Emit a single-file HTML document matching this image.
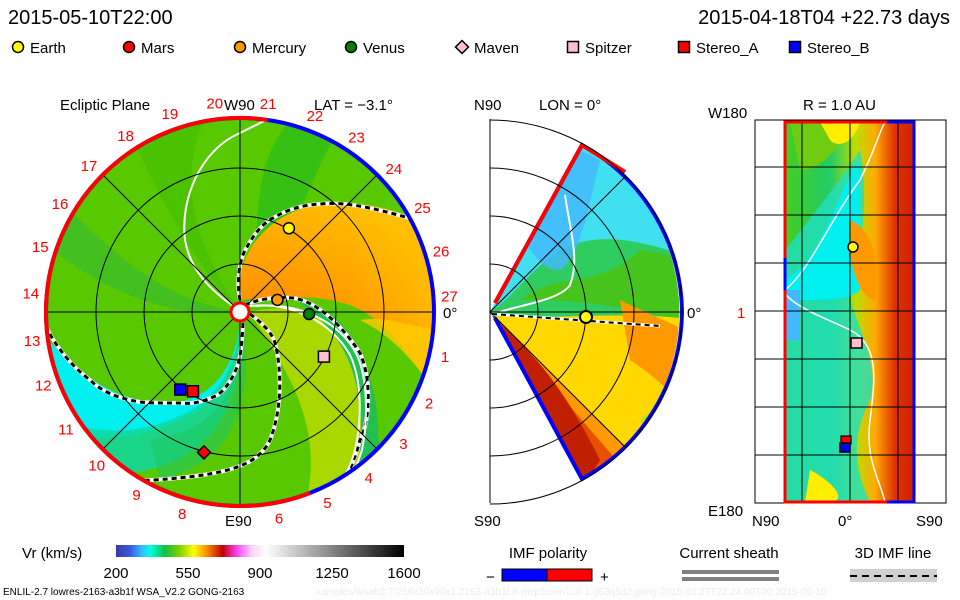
<!DOCTYPE html>
<html><head><meta charset="utf-8">
<style>
html,body{margin:0;padding:0;background:#fff;}
svg{display:block;font-family:"Liberation Sans",sans-serif;}
</style></head>
<body>
<svg id="root" width="960" height="600" viewBox="0 0 960 600">
<defs>
<clipPath id="circ"><circle cx="240" cy="312" r="194"/></clipPath>
<clipPath id="wedge"><path d="M490,312 L582,145 A192,192 0 0 1 582,479 Z"/></clipPath>
<clipPath id="rect"><rect x="785" y="122" width="129" height="380"/></clipPath>
<linearGradient id="cbar" x1="0" x2="1" y1="0" y2="0">
<stop offset="0" stop-color="#3a3aa0"/><stop offset="0.05" stop-color="#3a5ae0"/>
<stop offset="0.09" stop-color="#30c0ff"/><stop offset="0.12" stop-color="#00ffe0"/>
<stop offset="0.17" stop-color="#10c040"/><stop offset="0.22" stop-color="#80d000"/>
<stop offset="0.27" stop-color="#ffff00"/><stop offset="0.31" stop-color="#ff9900"/>
<stop offset="0.37" stop-color="#c00000"/><stop offset="0.42" stop-color="#ff40ff"/>
<stop offset="0.47" stop-color="#ffd0ff"/><stop offset="0.52" stop-color="#ffffff"/>
<stop offset="1" stop-color="#000000"/></linearGradient>
<radialGradient id="orangeg" cx="0.15" cy="0.9" r="1"><stop offset="0" stop-color="#ff6a00"/><stop offset="0.5" stop-color="#ff9a00"/><stop offset="1" stop-color="#ffc000"/></radialGradient>
<linearGradient id="rgrad" x1="0" x2="1"><stop offset="0" stop-color="#44cc22"/><stop offset="0.35" stop-color="#22cc66"/><stop offset="0.55" stop-color="#bbdd00"/><stop offset="0.7" stop-color="#ffaa00"/><stop offset="0.85" stop-color="#dd3300"/><stop offset="1" stop-color="#cc2200"/></linearGradient>
</defs>

<text x="8" y="24" font-size="20" fill="#000">2015-05-10T22:00</text>
<text x="950" y="24" font-size="20" fill="#000" text-anchor="end">2015-04-18T04 +22.73 days</text>

<g id="legend" font-size="15"></g>

<!-- Left polar panel -->
<g>
<text x="60" y="110" font-size="15">Ecliptic Plane</text>
<text x="224" y="110" font-size="15">W90</text>
<text x="314" y="110" font-size="15">LAT = −3.1°</text>
<text x="225" y="526" font-size="15">E90</text>
<text x="443" y="318" font-size="15">0°</text>
<g clip-path="url(#circ)">
<rect x="40" y="110" width="400" height="400" fill="#58c800"/>
<path d="M240,312 C200,250 170,180 210,110 L120,110 C150,180 190,260 240,312Z" fill="#48c000" opacity="0.8"/>
<path d="M240,312 C270,250 240,180 290,120 L350,110 C300,190 290,260 240,312Z" fill="#22bb22" opacity="0.6"/>
<path d="M240,312 C160,300 110,250 60,200 L40,240 C100,290 170,320 240,312Z" fill="#33bb33" opacity="0.6"/>
<path d="M238,300 C236,260 260,215 320,204 C370,200 405,212 440,230 L440,400 C420,370 390,320 350,305 C310,292 270,298 238,300Z" fill="url(#orangeg)"/>
<path d="M400,215 C420,240 440,280 440,330 L440,300 Z" fill="#ffbb00"/>
<path d="M360,320 C400,340 420,370 440,400 L440,330 C420,330 390,315 360,320Z" fill="#ffcc00" opacity="0.8"/>
<path d="M250,312 C300,300 340,320 360,360 C372,400 368,450 355,500 L300,520 C320,470 310,420 290,380 C275,350 260,330 250,312Z" fill="#a8d800"/>
<path d="M295,300 C335,305 365,340 375,400 C382,440 378,480 370,500 L350,505 C362,460 365,420 355,380 C345,340 320,315 295,300Z" fill="#22c050"/>
<path d="M240,320 C236,370 210,400 170,403 C120,403 80,380 40,330 L40,430 C90,445 150,440 200,410 C230,385 240,350 240,320Z" fill="#00f0f0"/>
<path d="M240,320 C242,370 235,410 205,440 C175,470 130,478 90,470 L60,420 C110,440 160,430 200,405 C230,380 238,350 240,320Z" fill="#10d8a0" opacity="0.85"/>
<path d="M150,440 C200,430 230,420 245,330 C250,400 240,460 160,480Z" fill="#20c860" opacity="0.6"/>
</g>
<g fill="none" clip-path="url(#circ)">
<path d="M236,308 C210,290 190,270 185,240 C180,200 200,150 240,133 C250,128 260,123 270,118" stroke="#fff" stroke-width="2"/>
<path d="M240,300 C237,285 238,260 247,247 C255,232 265,222 273,218 C290,208 305,205 320,204 C350,201 380,210 435,225" stroke="#fff" stroke-width="4"/>
<path d="M240,300 C237,285 238,260 247,247 C255,232 265,222 273,218 C290,208 305,205 320,204 C350,201 380,210 435,225" stroke="#000" stroke-width="3" stroke-dasharray="5,4"/>
<path d="M245,305 C260,298 280,297 293,298 C320,302 345,330 360,353 C372,380 370,420 360,440 C356,455 352,465 345,480" stroke="#fff" stroke-width="4"/>
<path d="M245,305 C260,298 280,297 293,298 C320,302 345,330 360,353 C372,380 370,420 360,440 C356,455 352,465 345,480" stroke="#000" stroke-width="3" stroke-dasharray="5,4"/>
<path d="M250,306 C290,302 330,320 350,355 C362,380 362,420 355,450 C350,470 340,485 330,500" stroke="#fff" stroke-width="2"/>
<path d="M255,306 C300,302 340,322 357,355 C368,380 368,420 362,450 C356,470 348,485 340,498" stroke="#fff" stroke-width="2"/>
<path d="M250,314 C265,325 273,335 275,343 C282,370 282,410 270,440 C258,465 230,475 153,480 C140,481 125,480 110,480" stroke="#fff" stroke-width="4"/>
<path d="M250,314 C265,325 273,335 275,343 C282,370 282,410 270,440 C258,465 230,475 153,480 C140,481 125,480 110,480" stroke="#000" stroke-width="3" stroke-dasharray="5,4"/>
<path d="M243,323 C242,345 240,360 237,367 C230,385 220,395 213,397 C200,403 190,404 180,403 C160,403 150,403 140,402 C115,398 100,390 90,380 C70,365 55,345 45,325" stroke="#fff" stroke-width="4"/>
<path d="M243,323 C242,345 240,360 237,367 C230,385 220,395 213,397 C200,403 190,404 180,403 C160,403 150,403 140,402 C115,398 100,390 90,380 C70,365 55,345 45,325" stroke="#000" stroke-width="3" stroke-dasharray="5,4"/>
</g>
<g fill="none" stroke="#000" stroke-width="1">
<circle cx="240" cy="312" r="48"/><circle cx="240" cy="312" r="96"/><circle cx="240" cy="312" r="144"/>
<line x1="46" y1="312" x2="434" y2="312"/><line x1="240" y1="118" x2="240" y2="506"/>
<line x1="103" y1="175" x2="377" y2="449"/><line x1="377" y1="175" x2="103" y2="449"/>
</g>
<circle cx="240" cy="312" r="194" fill="none" stroke="#0000ff" stroke-width="4"/>
<path d="M268,120 A194,194 0 0 0 46,312 A194,194 0 0 0 310,493" fill="none" stroke="#ff0000" stroke-width="4"/>
<circle cx="240" cy="312" r="9" fill="#fff" stroke="#ff0000" stroke-width="3"/>
<g id="hours" fill="#ff0000" font-size="15" text-anchor="middle"></g>
</g>

<!-- Middle meridional panel -->
<g>
<text x="474" y="110" font-size="15">N90</text>
<text x="539" y="110" font-size="15">LON = 0°</text>
<text x="474" y="526" font-size="15">S90</text>
<text x="687" y="318" font-size="15">0°</text>
<g clip-path="url(#wedge)">
<rect x="480" y="130" width="210" height="360" fill="#2fcc60"/>
<path d="M490,312 L582,140 L700,180 L700,260 C640,240 600,230 560,250 C530,270 510,300 490,312Z" fill="#40e0f0"/>
<path d="M520,230 L560,140 L600,160 C590,200 580,260 560,270 C540,270 530,250 520,230Z" fill="#44b8ff" opacity="0.8"/>
<path d="M520,300 C560,270 600,290 640,250 L700,260 L700,330 C650,310 600,300 520,300Z" fill="#50c000" opacity="0.7"/>
<path d="M495,316 C560,320 620,310 700,320 L700,490 L560,490 C560,420 530,360 495,316Z" fill="#ffd800"/>
<path d="M620,300 C660,320 690,330 700,340 L700,430 C680,400 660,380 630,360 Z" fill="#ff9900"/>
<path d="M492,316 L650,470 L600,495 Z" fill="#ff9900"/>
<path d="M492,316 L625,470 L590,490 Z" fill="#e85000"/>
<path d="M492,316 C530,350 560,380 600,460 L585,485 L480,490 L480,330Z" fill="#c02000"/>
<path d="M640,420 C660,400 680,410 690,440 L660,470Z" fill="#ccdd00"/>
</g>
<path d="M495,303 L582,145 A192,192 0 0 1 682,312" fill="none" stroke="#0000ff" stroke-width="4"/>
<path d="M495,303 L582,145 L625,172" fill="none" stroke="#ff0000" stroke-width="4"/>
<path d="M682,312 A192,192 0 0 1 582,479 L495,318" fill="none" stroke="#0000ff" stroke-width="4"/>
<path d="M565,195 C570,230 580,260 570,285 C560,300 520,305 500,312" fill="none" stroke="#fff" stroke-width="2"/>
<g fill="none" stroke="#000" stroke-width="1">
<line x1="490" y1="119" x2="490" y2="503"/>
<path d="M490,264 A48,48 0 0 1 490,360"/><path d="M490,216 A96,96 0 0 1 490,408"/>
<path d="M490,168 A144,144 0 0 1 490,456"/><path d="M490,120 A192,192 0 0 1 490,504"/>
<line x1="490" y1="312" x2="682" y2="312"/>
<line x1="490" y1="312" x2="626" y2="176"/><line x1="490" y1="312" x2="626" y2="448"/>
</g>
<line x1="492" y1="314" x2="660" y2="326" stroke="#fff" stroke-width="3"/>
<line x1="492" y1="314" x2="660" y2="326" stroke="#000" stroke-width="2" stroke-dasharray="5,4"/>
<circle cx="586" cy="317" r="6" fill="#ffff00" stroke="#000" stroke-width="2"/>
</g>

<!-- Right panel -->
<g>
<text x="803" y="110" font-size="15">R = 1.0 AU</text>
<text x="708" y="118" font-size="15">W180</text>
<text x="708" y="516" font-size="15">E180</text>
<text x="752" y="526" font-size="15">N90</text>
<text x="838" y="526" font-size="15">0°</text>
<text x="916" y="526" font-size="15">S90</text>
<text x="737" y="318" font-size="15" fill="#ff0000">1</text>
<g clip-path="url(#rect)">
<rect x="785" y="122" width="129" height="380" fill="url(#rgrad)"/>
<path d="M785,250 C810,220 840,180 860,150 C870,200 860,260 850,300 C860,330 880,370 870,400 C850,440 855,470 870,502 L785,502Z" fill="#20e0c0" opacity="0.8"/>
<path d="M785,280 C800,270 810,260 820,240 L830,220 C840,200 845,180 860,160 L860,290 C850,300 830,300 785,300Z" fill="#00f0f0"/>
<path d="M785,290 L800,290 L800,340 L785,340Z" fill="#44b8ff"/>
<path d="M790,122 L850,122 C840,150 820,170 800,170 Z" fill="#70cc10"/>
<path d="M820,122 L860,122 C855,140 840,150 830,140Z" fill="#ffee00"/>
<path d="M850,220 C870,230 880,250 875,300 C860,300 845,260 850,220Z" fill="#ff9900"/>
<path d="M810,470 C830,480 850,500 830,502 L805,502Z" fill="#ffee00"/>
</g>
<path d="M785,290 C810,270 830,220 860,180 C875,150 880,130 885,122" fill="none" stroke="#fff" stroke-width="1.5"/>
<path d="M786,295 C800,310 830,320 850,330 C880,345 875,380 870,420 C865,460 880,480 885,502" fill="none" stroke="#fff" stroke-width="1.5"/>
<g stroke="#000" stroke-width="1" fill="none">
<rect x="755" y="120" width="191" height="383"/>
<line x1="802" y1="120" x2="802" y2="503"/><line x1="850" y1="120" x2="850" y2="503"/><line x1="898" y1="120" x2="898" y2="503"/>
<line x1="755" y1="167" x2="946" y2="167"/><line x1="755" y1="215" x2="946" y2="215"/><line x1="755" y1="263" x2="946" y2="263"/>
<line x1="755" y1="311" x2="946" y2="311"/><line x1="755" y1="359" x2="946" y2="359"/><line x1="755" y1="407" x2="946" y2="407"/>
<line x1="755" y1="455" x2="946" y2="455"/>
</g>
<path d="M887,122 L785,122 L785,502 L887,502" fill="none" stroke="#ff0000" stroke-width="3"/>
<path d="M887,122 L914,122 L914,502 L887,502" fill="none" stroke="#0000ff" stroke-width="3"/>
<line x1="785" y1="258" x2="785" y2="290" stroke="#0000ff" stroke-width="3"/>
<circle cx="853" cy="247" r="5" fill="#ffff00" stroke="#000" stroke-width="1.5"/>
<rect x="851" y="338" width="11" height="10" fill="#ffc0cb" stroke="#000" stroke-width="1.5"/>
<rect x="841" y="436" width="10" height="8" fill="#ff0000" stroke="#000" stroke-width="1.2"/>
<rect x="840" y="443" width="10" height="9" fill="#0000ff" stroke="#000" stroke-width="1.5"/>
</g>

<g>
<text x="22" y="558" font-size="15">Vr (km/s)</text>
<rect x="116" y="545" width="288" height="12" fill="url(#cbar)"/>
<g id="cbticks" font-size="15" text-anchor="middle"></g>
</g>
<g>
<text x="548" y="558" font-size="15" text-anchor="middle">IMF polarity</text>
<text x="486" y="582" font-size="15">−</text>
<rect x="502" y="569" width="45" height="12" fill="#0000ff" stroke="#000"/>
<rect x="547" y="569" width="45" height="12" fill="#ff0000" stroke="#000"/>
<text x="600" y="582" font-size="15">+</text>
</g>
<g>
<text x="729" y="558" font-size="15" text-anchor="middle">Current sheath</text>
<rect x="682" y="570" width="97" height="4" fill="#808080"/>
<rect x="682" y="577" width="97" height="4" fill="#808080"/>
</g>
<g>
<text x="893" y="558" font-size="15" text-anchor="middle">3D IMF line</text>
<rect x="850" y="569" width="87" height="13" fill="#d0d0d0"/>
<line x1="850" y1="576" x2="937" y2="576" stroke="#000" stroke-width="2" stroke-dasharray="7,5"/>
</g>
<text x="3" y="595" font-size="10">ENLIL-2.7 lowres-2163-a3b1f WSA_V2.2 GONG-2163</text>
<text x="316" y="595" font-size="10" fill="#ececec">xamples/wsafr2.7/256x30x90x1.2163-a3b1f.8-mcp1umn1cd-1.g53q5d2.gong-2015:03:27T22:24:00T00   2015-05-10</text>

<g id="markers"></g>
</svg>
<script>
var NS="http://www.w3.org/2000/svg";
var cbTicks=[200,550,900,1250,1600];
var cbMin=200,cbMax=1600;
var legendNames=["Earth","Mars","Mercury","Venus","Maven","Spitzer","Stereo_A","Stereo_B"];
var legendColors=["#ffff00","#ff0000","#ff9900","#008000","#ffc0cb","#ffc0cb","#ff0000","#0000ff"];
var legendShapes=["circle","circle","circle","circle","diamond","square","square","square"];
var bodyNames=["Earth","Mercury","Venus","Spitzer","Stereo_B","Stereo_A","Mars"];
var bodyAngle=[59.7,18,-1.7,-28,-127.6,-120.7,-104.4];
var bodyRadius=[1.01,0.41,0.72,0.99,1.02,0.96,1.51];
var bodyColors=["#ffff00","#ff9900","#008000","#ffc0cb","#0000ff","#ff0000","#ff0000"];
var bodyShapes=["circle","circle","circle","square","square","square","diamond"];
var hourLabels=["19","20","21","22","23","24","25","26","27","1","2","3","4","5","6","8","9","10","11","12","13","14","15","16","17","18"];
var hourAngle=[109.5,96.9,82.3,69.1,56.3,42.9,29.7,16.8,4.3,-12.4,-25.8,-38.9,-52.2,-65.4,-79.3,-106,-119.5,-133,-146,-159.5,-172,175,162,149,136,123];

function mk(t,a){var e=document.createElementNS(NS,t);for(var k in a)e.setAttribute(k,a[k]);return e;}
function cbX(v){return 116+(v-cbMin)/(cbMax-cbMin)*288;}
function polarX(a,r){return 240+r*96*Math.cos(a*Math.PI/180);}
function polarY(a,r){return 312-r*96*Math.sin(a*Math.PI/180);}
function shape(g,s,x,y,c,sz){
  var e;
  if(s==="circle")e=mk("circle",{cx:x,cy:y,r:sz/2,fill:c,stroke:"#000","stroke-width":1.5});
  else if(s==="square")e=mk("rect",{x:x-sz/2,y:y-sz/2,width:sz,height:sz,fill:c,stroke:"#000","stroke-width":1.5});
  else e=mk("path",{d:"M"+x+","+(y-sz/2-1)+" L"+(x+sz/2+1)+","+y+" L"+x+","+(y+sz/2+1)+" L"+(x-sz/2-1)+","+y+"Z",fill:c,stroke:"#000","stroke-width":1.5});
  g.appendChild(e);return e;
}
var cb=document.getElementById("cbticks");
cbTicks.forEach(function(v){
  var t=mk("text",{x:cbX(v),y:578});t.textContent=v;
  
  
  cb.appendChild(t);
});
var lg=document.getElementById("legend");
legendNames.forEach(function(n,i){
  var x=18+i*111;
  var g=mk("g",{});
  
  
  shape(g,legendShapes[i],x,47,legendColors[i],11);
  var t=mk("text",{x:x+12,y:53});t.textContent=n;g.appendChild(t);
  lg.appendChild(g);
});
var hg=document.getElementById("hours");
hourLabels.forEach(function(h,i){
  var a=hourAngle[i]*Math.PI/180,R=210;
  var t=mk("text",{x:240+R*Math.cos(a),y:312-R*Math.sin(a)+5});t.textContent=h;
  
  
  hg.appendChild(t);
});
var mg=document.getElementById("markers");
bodyNames.forEach(function(n,i){
  var e=shape(mg,bodyShapes[i],polarX(bodyAngle[i],bodyRadius[i]),polarY(bodyAngle[i],bodyRadius[i]),bodyColors[i],11);
  
  
});
</script>
</body></html>
